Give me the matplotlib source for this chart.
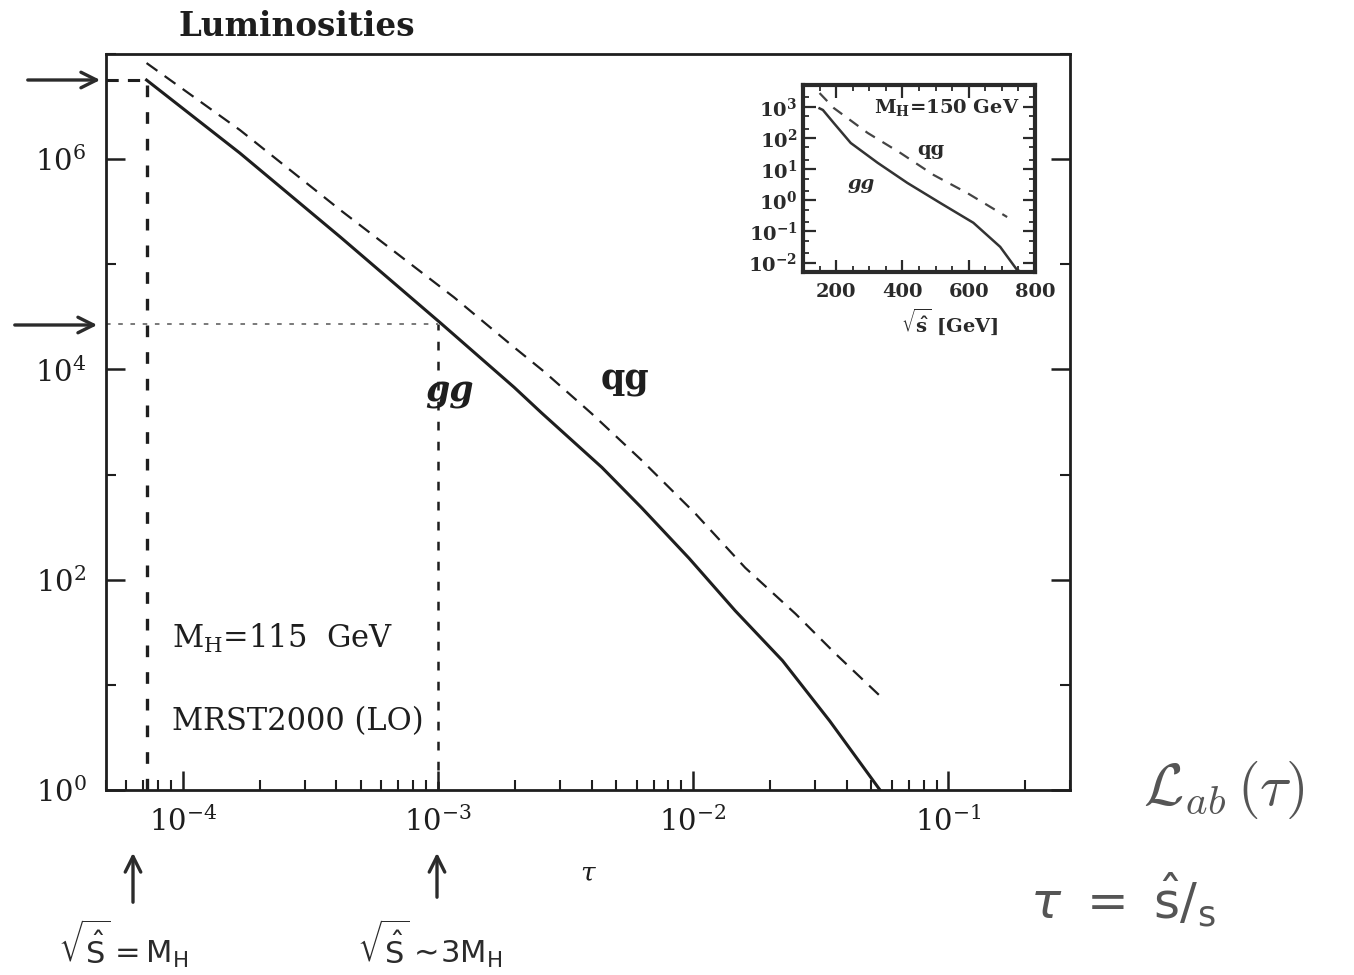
import numpy as np
import matplotlib
matplotlib.use("Agg")
import matplotlib.pyplot as plt
from matplotlib.ticker import (LogLocator, FixedLocator, LogFormatterMathtext,
                               NullFormatter, MultipleLocator, FuncFormatter)
from matplotlib.patches import FancyArrowPatch

plt.rcParams['font.family'] = ['DejaVu Serif']
plt.rcParams['mathtext.fontset'] = 'dejavuserif'

# ---------------- data ----------------
tau_gg = [7.21e-5, 1.675e-4, 4.15e-4, 1.028e-3, 1.99e-3, 2.55e-3, 4.39e-3,
          6.30e-3, 9.64e-3, 1.462e-2, 2.24e-2, 3.43e-2, 5.40e-2]
lum_gg = [5.65e6, 1.14e6, 1.81e5, 2.74e4, 6.75e3, 3.85e3, 1.17e3,
          480, 160, 50.7, 17.0, 4.54, 1.0]

tau_qg = [7.21e-5, 1.675e-4, 4.15e-4, 1.156e-3, 1.99e-3, 2.61e-3, 4.0e-3,
          6.30e-3, 1.02e-2, 1.60e-2, 2.52e-2, 3.62e-2, 5.40e-2]
lum_qg = [8.2e6, 1.89e6, 3.27e5, 4.85e4, 1.62e4, 9.5e3, 3.81e3,
          1.36e3, 426, 130, 47.4, 19.7, 7.85]

tau_mh = 7.21e-5     # sqrt(s_hat) = M_H
tau_3mh = 1.0e-3     # sqrt(s_hat) ~ 3 M_H
lum_mh = 5.65e6
lum_3mh = 2.7e4

# inset (M_H = 150 GeV)
rs_gg = [150, 160, 193, 244, 325, 415, 515, 614, 695, 746, 760]
il_gg = [890, 790, 300, 69, 16, 3.6, 0.81, 0.19, 0.032, 0.0058, 0.005]
rs_qg = [150, 193, 295, 394, 494, 596, 716]
il_qg = [2750, 910, 145, 33, 6.5, 1.7, 0.29]

main_xticks = [1e-4, 1e-3, 1e-2, 1e-1]
main_yticks_major = [1e0, 1e2, 1e4, 1e6]
main_yticks_minor = [1e1, 1e3, 1e5, 1e7]
inset_yticks = [1e-2, 1e-1, 1e0, 1e1, 1e2, 1e3]
inset_xticks = [200, 400, 600, 800]

W, H = 1354, 975
def fx(x):
    return x / W
def fy(y):
    return 1 - y / H

fig = plt.figure(figsize=(13.54, 9.75), dpi=100)
fig.patch.set_facecolor('white')

ink = '#1e1e1e'
ax = fig.add_axes([fx(106), fy(790), (1070 - 106) / W, (790 - 54) / H])
ax.set_xscale('log')
ax.set_yscale('log')
ax.set_xlim(5e-5, 0.3)
ax.set_ylim(1, 1e7)

ax.plot(tau_gg, lum_gg, color=ink, lw=2.2, solid_joinstyle='round')
ax.plot(tau_qg, lum_qg, color=ink, lw=1.6, dashes=(6, 4))

# guide lines
ax.plot([tau_mh, tau_mh], [1, lum_mh], color=ink, lw=2.4, dashes=(3.5, 4.5))
ax.plot([5e-5, tau_mh], [lum_mh, lum_mh], color=ink, lw=2.2, dashes=(4, 3))
ax.plot([tau_3mh, tau_3mh], [1, lum_3mh], color=ink, lw=1.8, dashes=(3.5, 4.5))
ax.plot([5e-5, tau_3mh], [lum_3mh, lum_3mh], color='#555555', lw=1.1, dashes=(3, 5))

for s in ax.spines.values():
    s.set_linewidth(2.0)
    s.set_color(ink)

ax.xaxis.set_major_locator(FixedLocator(main_xticks))
ax.xaxis.set_minor_locator(LogLocator(base=10, subs=np.arange(2, 10), numticks=20))
ax.xaxis.set_major_formatter(LogFormatterMathtext())
ax.xaxis.set_minor_formatter(NullFormatter())
ax.yaxis.set_major_locator(FixedLocator(main_yticks_major))
ax.yaxis.set_minor_locator(FixedLocator(main_yticks_minor))
ax.yaxis.set_major_formatter(LogFormatterMathtext())
ax.yaxis.set_minor_formatter(NullFormatter())
ax.tick_params(axis='both', which='major', direction='in', length=14, width=1.8,
               labelsize=21, colors=ink)
ax.tick_params(axis='both', which='minor', direction='in', length=7, width=1.5, colors=ink)
ax.tick_params(axis='x', which='both', top=False, bottom=True, pad=12)
ax.tick_params(axis='y', which='both', left=True, right=True, pad=14)

ax.text(fx(172), fy(638), r'M$_\mathrm{H}$=115  GeV', transform=fig.transFigure,
        fontsize=22, color=ink, ha='left', va='center')
ax.text(fx(172), fy(722), 'MRST2000 (LO)', transform=fig.transFigure,
        fontsize=22, color=ink, ha='left', va='center')
ax.text(fx(449), fy(392), 'gg', transform=fig.transFigure, fontsize=25,
        style='italic', weight='bold', color=ink, ha='center', va='center')
ax.text(fx(625), fy(380), 'qg', transform=fig.transFigure, fontsize=25,
        weight='bold', color=ink, ha='center', va='center')

fig.text(fx(178), fy(27), 'Luminosities', fontsize=23.5, weight='bold',
         color=ink, ha='left', va='center')
fig.text(fx(588), fy(873), r'$\tau$', fontsize=19, color=ink, ha='center', va='center')

# ---------------- inset ----------------
ax2 = fig.add_axes([fx(803), fy(272), (1035 - 803) / W, (272 - 85) / H])
ax2.set_yscale('log')
ax2.set_xlim(100, 800)
ax2.set_ylim(0.005, 5000)
ax2.plot(rs_gg, il_gg, color='#333333', lw=1.8, solid_joinstyle='round')
ax2.plot(rs_qg, il_qg, color='#444444', lw=1.6, dashes=(5, 4))
for s in ax2.spines.values():
    s.set_linewidth(3.0)
    s.set_color('#2a2a2a')
ax2.xaxis.set_major_locator(FixedLocator(inset_xticks))
ax2.xaxis.set_minor_locator(MultipleLocator(50))
ax2.yaxis.set_major_locator(FixedLocator(inset_yticks))
ax2.yaxis.set_minor_locator(LogLocator(base=10, subs=(2, 5), numticks=20))
ax2.yaxis.set_major_formatter(FuncFormatter(
    lambda v, p: r'$\mathbf{10^{%d}}$' % int(round(np.log10(v)))))
ax2.yaxis.set_minor_formatter(NullFormatter())
ax2.tick_params(axis='both', which='major', direction='in', length=9, width=1.6,
                labelsize=14, colors='#2a2a2a', top=True, right=True)
ax2.tick_params(axis='both', which='minor', direction='in', length=4, width=1.3,
                colors='#2a2a2a', top=True, right=True)
ax2.tick_params(axis='x', pad=8)
ax2.tick_params(axis='y', pad=4)
for lab in ax2.get_xticklabels():
    lab.set_fontweight('bold')
fig.text(fx(950), fy(322), r'$\mathbf{\sqrt{\hat{s}}}$ [GeV]', fontsize=14, weight='bold',
         color='#2a2a2a', ha='center', va='center')
ax2.text(0.62, 0.88, r'M$_\mathbf{H}$=150 GeV', transform=ax2.transAxes, fontsize=14,
         weight='bold', color='#2a2a2a', ha='center', va='center')
ax2.text(0.55, 0.65, 'qg', transform=ax2.transAxes, fontsize=14, weight='bold',
         color='#2a2a2a', ha='center', va='center')
ax2.text(0.25, 0.47, 'gg', transform=ax2.transAxes, fontsize=14, weight='bold',
         style='italic', color='#2a2a2a', ha='center', va='center')

# ---------------- handwritten annotations ----------------
hand = '#2b2b2b'
hand2 = '#555555'
arr = dict(arrowstyle='->', color=hand, lw=2.4, mutation_scale=28)
fig.add_artist(FancyArrowPatch((fx(25), fy(80)), (fx(103), fy(80)),
               transform=fig.transFigure, **arr))
fig.add_artist(FancyArrowPatch((fx(12), fy(325)), (fx(100), fy(325)),
               transform=fig.transFigure, **arr))
fig.add_artist(FancyArrowPatch((fx(133), fy(905)), (fx(133), fy(850)),
               transform=fig.transFigure, **arr))
fig.add_artist(FancyArrowPatch((fx(437), fy(900)), (fx(437), fy(850)),
               transform=fig.transFigure, **arr))

fig.text(fx(58), fy(944), r'$\sqrt{\hat{\mathrm{S}}}=\mathrm{M}_\mathrm{H}$', fontsize=22,
         color=hand, ha='left', va='center', math_fontfamily='dejavusans')
fig.text(fx(357), fy(944), r'$\sqrt{\hat{\mathrm{S}}}\sim\!\mathrm{3M}_\mathrm{H}$', fontsize=22,
         color=hand, ha='left', va='center', math_fontfamily='dejavusans')
fig.text(fx(1143), fy(790), r'$\mathcal{L}_{ab}\,(\tau)$', fontsize=42,
         color=hand2, ha='left', va='center', math_fontfamily='cm')
fig.text(fx(1030), fy(900), r'$\tau\ =\ \hat{\mathrm{s}}/_{\mathrm{s}}$', fontsize=36,
         color=hand2, ha='left', va='center', math_fontfamily='dejavusans')

fig.savefig('out.png', dpi=100, facecolor='white')
